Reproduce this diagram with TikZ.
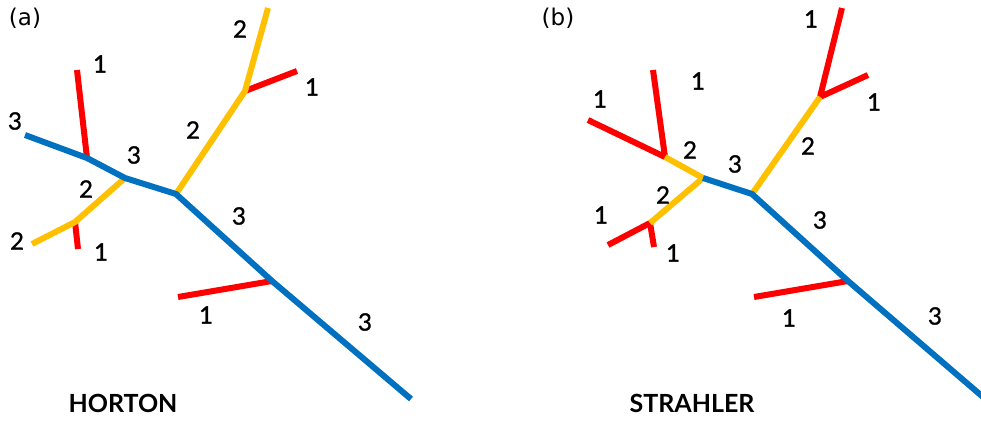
\documentclass[tikz,border=0pt]{standalone}
\usepackage{fontspec}
\setmainfont{Lato}
\newfontfamily\dejavu{DejaVu Sans}
\newfontfamily\numfont{Lato}[FakeBold=1.2]
\definecolor{rblue}{HTML}{0070C0}
\definecolor{ryellow}{HTML}{FFC000}
\definecolor{rred}{HTML}{FF0000}
\begin{document}
\begin{tikzpicture}[x=1pt,y=-1pt,
  seg/.style={line width=6pt,line join=round},
  o1/.style={seg,draw=rred},
  o2/.style={seg,draw=ryellow},
  o3/.style={seg,draw=rblue},
  num/.style={font=\numfont\fontsize{24}{24}\selectfont,inner sep=0pt},
  panel/.style={font=\dejavu\fontsize{23}{23}\selectfont,inner sep=0pt},
  title/.style={font=\bfseries\fontsize{25}{25}\selectfont,inner sep=0pt}]
\useasboundingbox (0,0) rectangle (981,421);
% ---------- (a) HORTON ----------
\coordinate (a0) at (25,135);
\coordinate (a1) at (87,158);
\coordinate (a2) at (125,178);
\coordinate (a3) at (176,194);
\coordinate (a4) at (272,281);
\coordinate (a5) at (411,399);
\coordinate (ar1) at (77,70);
\coordinate (ay1) at (75,222);
\coordinate (ay2) at (32,244);
\coordinate (ar2) at (78,249);
\coordinate (ay3) at (245,91);
\coordinate (ay4) at (268,8);
\coordinate (ar3) at (297,71);
\coordinate (ar4) at (178,297);
\draw[o1] (ar1) -- (a1);
\draw[o1] (ay1) -- (ar2);
\draw[o1] (ay3) -- (ar3);
\draw[o1] (a4) -- (ar4);
\draw[o2] (a2) -- (ay1) -- (ay2);
\draw[o2] (a3) -- (ay3) -- (ay4);
\draw[o3] (a0) -- (a1) -- (a2) -- (a3) -- (a4) -- (a5);
\node[panel] (pa) at (25,18) {(a)};
\node[num] (la1) at (100,64) {1};
\node[num] (la2) at (15,121) {3};
\node[num] (la3) at (134,155) {3};
\node[num] (la4) at (86,189) {2};
\node[num] (la5) at (17,241) {2};
\node[num] (la6) at (101,252) {1};
\node[num] (la7) at (193,130) {2};
\node[num] (la8) at (240,29) {2};
\node[num] (la9) at (312,87) {1};
\node[num] (la10) at (239,216) {3};
\node[num] (la11) at (206,315) {1};
\node[num] (la12) at (365,322) {3};
\node[title] (ta) at (123,403) {HORTON};
% ---------- (b) STRAHLER ----------
\coordinate (b0) at (703,178);
\coordinate (b1) at (752,194);
\coordinate (b2) at (848,281);
\coordinate (b3) at (983,397);
\coordinate (by1) at (665,157);
\coordinate (br1) at (588,120);
\coordinate (br2) at (653,70);
\coordinate (by2) at (650,223);
\coordinate (br3) at (608,245);
\coordinate (br4) at (654,247);
\coordinate (by3) at (820,97);
\coordinate (br5) at (842,8);
\coordinate (br6) at (868,75);
\coordinate (br7) at (754,297);
\draw[o1] (br1) -- (by1) -- (br2);
\draw[o1] (br3) -- (by2) -- (br4);
\draw[o1] (br5) -- (by3) -- (br6);
\draw[o1] (b2) -- (br7);
\draw[o2] (b0) -- (by1);
\draw[o2] (b0) -- (by2);
\draw[o2] (b1) -- (by3);
\draw[o3] (b0) -- (b1) -- (b2) -- (b3);
\node[panel] (pb) at (558,18) {(b)};
\node[num] (lb1) at (811,19) {1};
\node[num] (lb2) at (874,102) {1};
\node[num] (lb3) at (808,146) {2};
\node[num] (lb4) at (600,99) {1};
\node[num] (lb5) at (698,81) {1};
\node[num] (lb6) at (690,150) {2};
\node[num] (lb7) at (735,164) {3};
\node[num] (lb8) at (663,195) {2};
\node[num] (lb9) at (601,215) {1};
\node[num] (lb10) at (673,253) {1};
\node[num] (lb11) at (820,220) {3};
\node[num] (lb12) at (789,318) {1};
\node[num] (lb13) at (935,316) {3};
\node[title] (tb) at (692,403) {STRAHLER};
\end{tikzpicture}
\end{document}
